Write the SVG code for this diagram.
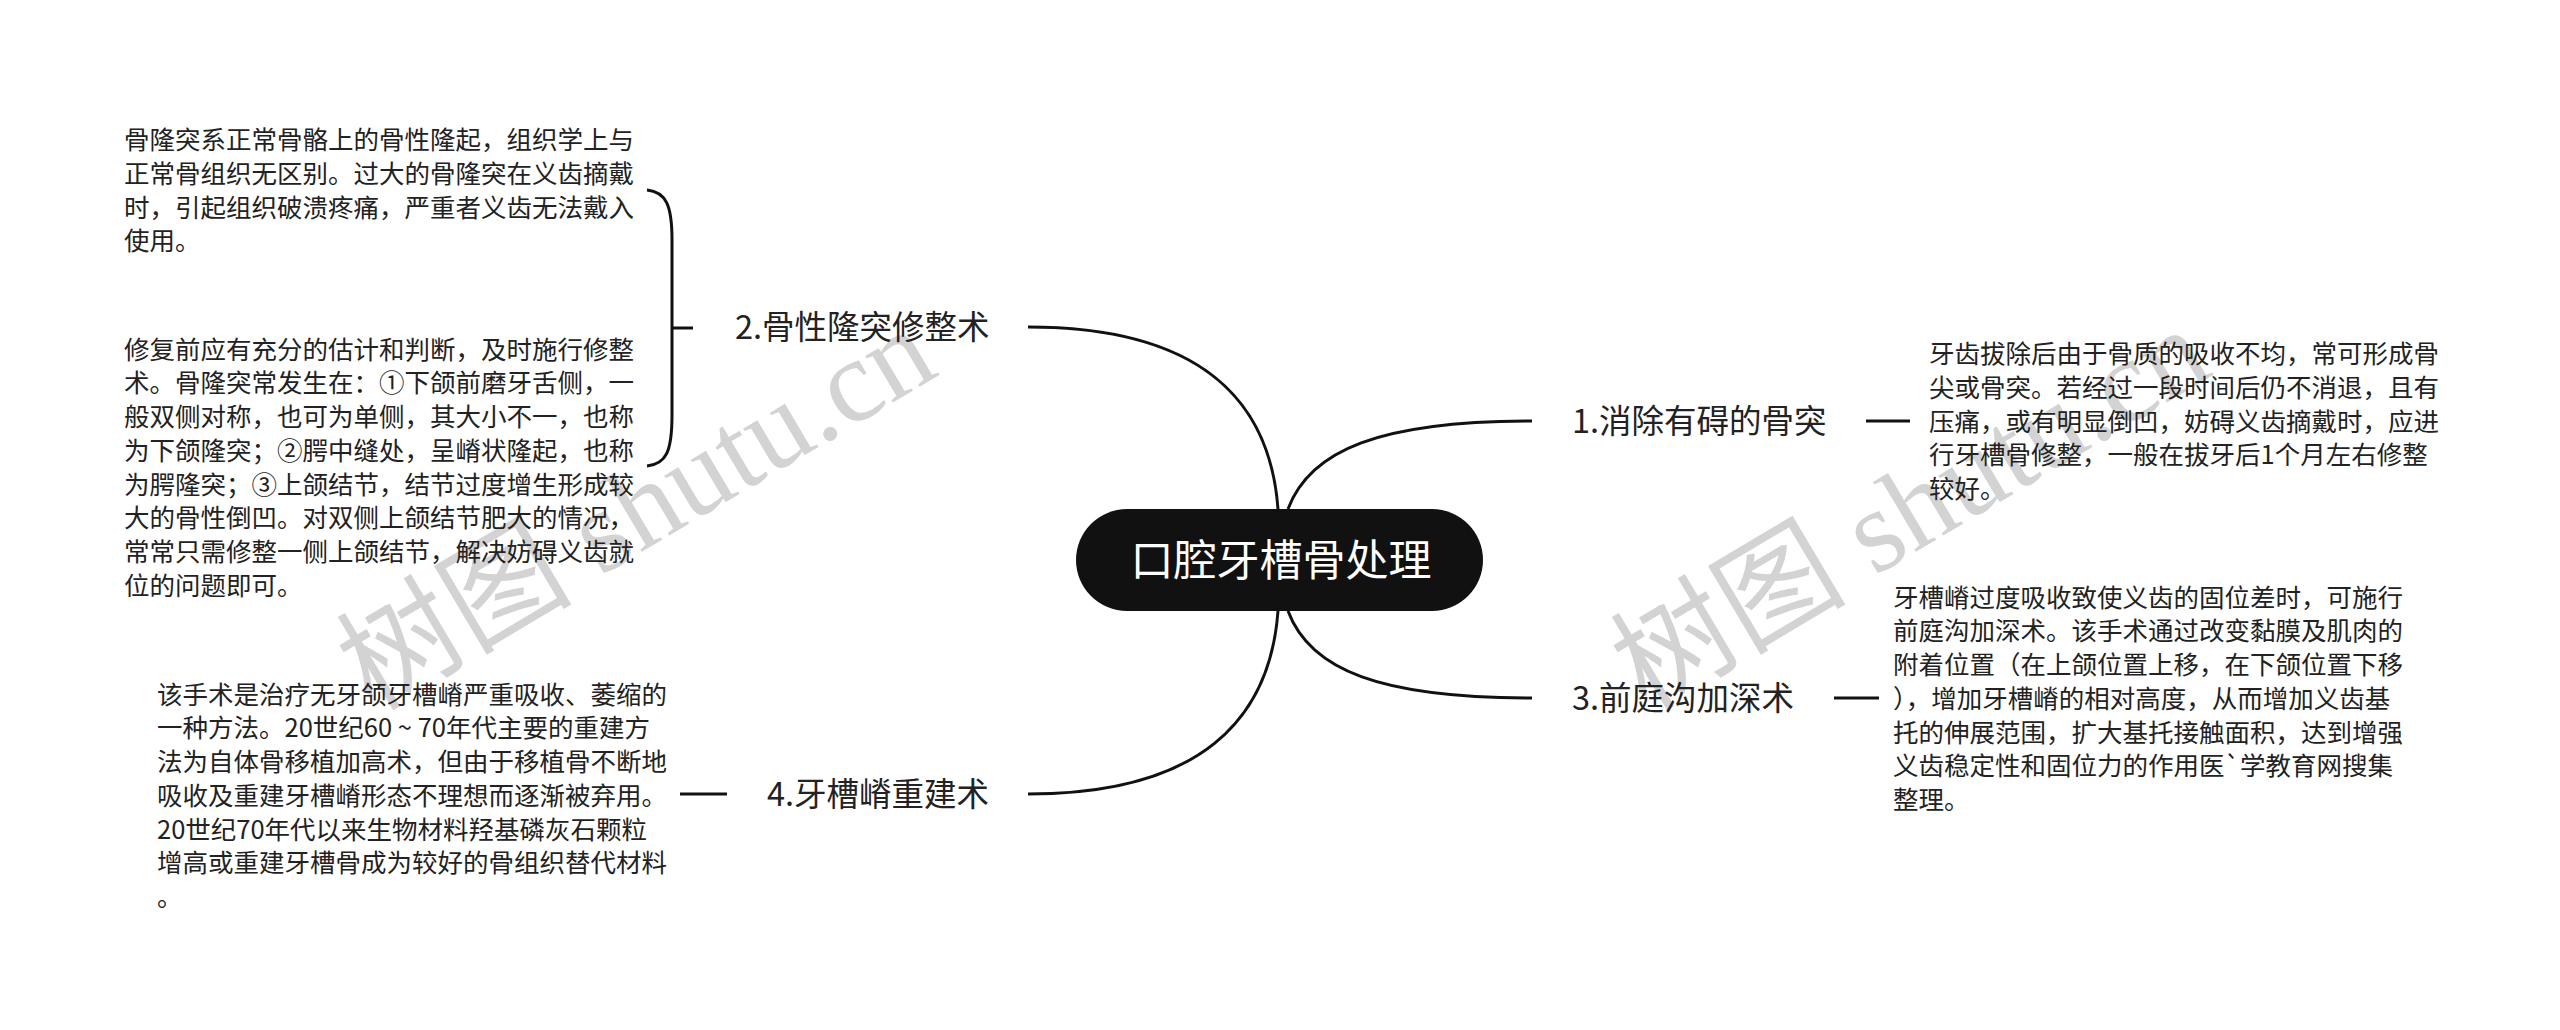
<svg xmlns="http://www.w3.org/2000/svg" width="2560" height="1030" viewBox="0 0 2560 1030">
<style>
.wm{font-family:"Liberation Serif","Noto Sans CJK SC",serif;font-size:118px;fill:#d3d3d3}
.body{font-family:"Noto Sans CJK SC","Noto Sans",sans-serif;font-size:25.5px;fill:#222222}
.lbl{font-family:"Noto Sans CJK SC","Noto Sans",sans-serif;font-size:32.5px;fill:#222222}
.root{font-family:"Noto Sans CJK SC","Noto Sans",sans-serif;font-size:43px;fill:#ffffff}
.ln{fill:none;stroke:#111;stroke-width:3;stroke-linecap:butt}
</style>
<rect width="2560" height="1030" fill="#ffffff"/>
<g id="watermarks">
<text class="wm" transform="translate(372,712) rotate(-30.7)">树图 shutu.cn</text>
<text class="wm" transform="translate(1646,712) rotate(-30.7)">树图 shutu.cn</text>
</g>
<g id="connectors">
<path class="ln" d="M1288,509 C1310,450 1380,421 1532,421"/>
<path class="ln" d="M1288,611 C1310,670 1380,698 1532,698"/>
<path class="ln" d="M1278,509 C1270,400 1200,327 1028,327"/>
<path class="ln" d="M1278,611 C1270,720 1200,794 1028,794"/>
<path class="ln" d="M1866,421 H1910"/>
<path class="ln" d="M1834,698 H1879"/>
<path class="ln" d="M680,794 H727"/>
<path class="ln" d="M672,328 H693"/>
<path class="ln" d="M647,190 C666,192 672,205 672,240 L672,415 C672,452 666,464 647,466"/>
</g>
<g id="root">
<rect x="1076" y="509" width="407" height="102" rx="51" ry="51" fill="#111111"/>
<text class="root" x="1281" y="576" text-anchor="middle">口腔牙槽骨处理</text>
</g>
<g id="branch1">
<text class="lbl" x="1572" y="433">1.消除有碍的骨突</text>
</g>
<g id="detail1">
<text class="body">
<tspan x="1929" y="363">牙齿拔除后由于骨质的吸收不均，常可形成骨</tspan>
<tspan x="1929" y="396.75">尖或骨突。若经过一段时间后仍不消退，且有</tspan>
<tspan x="1929" y="430.5">压痛，或有明显倒凹，妨碍义齿摘戴时，应进</tspan>
<tspan x="1929" y="464.25">行牙槽骨修整，一般在拔牙后1个月左右修整</tspan>
<tspan x="1929" y="498">较好。</tspan>
</text>
</g>
<g id="branch2">
<text class="lbl" x="735" y="339">2.骨性隆突修整术</text>
</g>
<g id="detail2a">
<text class="body">
<tspan x="124" y="149">骨隆突系正常骨骼上的骨性隆起，组织学上与</tspan>
<tspan x="124" y="182.75">正常骨组织无区别。过大的骨隆突在义齿摘戴</tspan>
<tspan x="124" y="216.5">时，引起组织破溃疼痛，严重者义齿无法戴入</tspan>
<tspan x="124" y="250.25">使用。</tspan>
</text>
</g>
<g id="detail2b">
<text class="body">
<tspan x="124" y="358.7">修复前应有充分的估计和判断，及时施行修整</tspan>
<tspan x="124" y="392.45">术。骨隆突常发生在：①下颌前磨牙舌侧，一</tspan>
<tspan x="124" y="426.2">般双侧对称，也可为单侧，其大小不一，也称</tspan>
<tspan x="124" y="459.95">为下颌隆突；②腭中缝处，呈嵴状隆起，也称</tspan>
<tspan x="124" y="493.7">为腭隆突；③上颌结节，结节过度增生形成较</tspan>
<tspan x="124" y="527.45">大的骨性倒凹。对双侧上颌结节肥大的情况，</tspan>
<tspan x="124" y="561.2">常常只需修整一侧上颌结节，解决妨碍义齿就</tspan>
<tspan x="124" y="594.95">位的问题即可。</tspan>
</text>
</g>
<g id="branch3">
<text class="lbl" x="1572" y="710">3.前庭沟加深术</text>
</g>
<g id="detail3">
<text class="body">
<tspan x="1893" y="606.5">牙槽嵴过度吸收致使义齿的固位差时，可施行</tspan>
<tspan x="1893" y="640.25">前庭沟加深术。该手术通过改变黏膜及肌肉的</tspan>
<tspan x="1893" y="674">附着位置（在上颌位置上移，在下颌位置下移</tspan>
<tspan x="1893" y="707.75">），增加牙槽嵴的相对高度，从而增加义齿基</tspan>
<tspan x="1893" y="741.5">托的伸展范围，扩大基托接触面积，达到增强</tspan>
<tspan x="1893" y="775.25">义齿稳定性和固位力的作用医`学教育网搜集</tspan>
<tspan x="1893" y="809">整理。</tspan>
</text>
</g>
<g id="branch4">
<text class="lbl" x="767" y="806">4.牙槽嵴重建术</text>
</g>
<g id="detail4">
<text class="body">
<tspan x="157" y="703.5">该手术是治疗无牙颌牙槽嵴严重吸收、萎缩的</tspan>
<tspan x="157" y="737.25">一种方法。20世纪60 ~ 70年代主要的重建方</tspan>
<tspan x="157" y="771">法为自体骨移植加高术，但由于移植骨不断地</tspan>
<tspan x="157" y="804.75">吸收及重建牙槽嵴形态不理想而逐渐被弃用。</tspan>
<tspan x="157" y="838.5">20世纪70年代以来生物材料羟基磷灰石颗粒</tspan>
<tspan x="157" y="872.25">增高或重建牙槽骨成为较好的骨组织替代材料</tspan>
<tspan x="157" y="906">。</tspan>
</text>
</g>
</svg>
